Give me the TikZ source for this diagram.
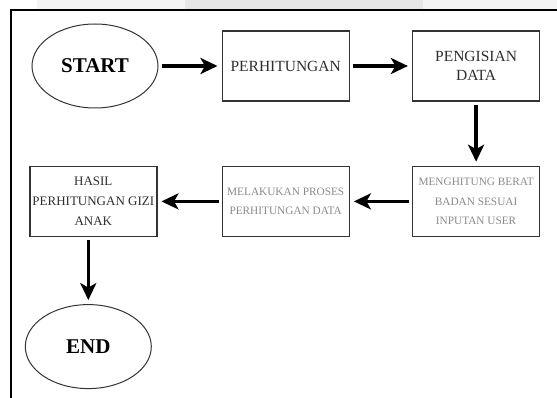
\documentclass[tikz,border=0pt]{standalone}
\usepackage{fontspec}
\setmainfont{Liberation Serif}
\usepackage{xcolor}
\usepackage{tikz}
\usetikzlibrary{shapes.geometric,arrows.meta,positioning}

\definecolor{edgegray}{HTML}{333333}
\definecolor{textdark}{HTML}{2E2E2E}
\definecolor{textlight}{HTML}{8A8A8A}
\definecolor{bandlight}{HTML}{F4F4F4}
\definecolor{banddark}{HTML}{E6E6E6}

\begin{document}
\begin{tikzpicture}[
		x=1pt, y=1pt,
		node distance=63pt,
		terminal/.style={ellipse, draw=edgegray, line width=1pt, minimum width=126pt, minimum height=84pt, inner sep=0pt, font=\fontsize{21}{24}\selectfont\bfseries, text=black},
		block/.style={rectangle, draw=edgegray, line width=1.4pt, minimum width=127pt, minimum height=70pt, inner sep=1pt, align=center, text=textdark, font=\fontsize{15.5}{19.5}\selectfont},
		smallblock/.style={block, font=\fontsize{11.3}{19.5}\selectfont, text=textlight},
		arrow/.style={-{Stealth[length=17pt,width=16pt,inset=4.5pt]}, line width=3.4pt, shorten >=4pt, shorten <=3pt}
		]
		
		% page and frame
		\useasboundingbox (0,0) rectangle (557,-398);
		\fill[bandlight] (37,0) rectangle (557,-9);
		\fill[banddark] (185,0) rectangle (423,-9);
		\draw[line width=1.2pt] (11,-398) -- (11,-10) -- (557,-10);
		
		% Main flow
		\node[terminal] (start) at (95,-66) {START};
		\node[block, right=of start] (hitung) {PERHITUNGAN};
		\node[block, right=62pt of hitung] (isi) {PENGISIAN\\DATA};
		\node[smallblock, below=64pt of isi] (berat) {MENGHITUNG BERAT\\BADAN SESUAI\\INPUTAN USER};
		\node[smallblock, left=62pt of berat] (proses) {MELAKUKAN PROSES\\PERHITUNGAN DATA};
		\node[block, left=64pt of proses, font=\fontsize{13}{20}\selectfont] (hasil) {HASIL\\PERHITUNGAN GIZI\\ANAK};
		\node[terminal, below=67pt of hasil, xshift=-5pt] (fin) {END};
		
		% Arrows
		\draw[arrow] (start) -- (hitung);
		\draw[arrow] (hitung) -- (isi);
		\draw[arrow] (isi) -- (berat);
		\draw[arrow] (berat) -- (proses);
		\draw[arrow] (proses) -- (hasil);
		\draw[arrow] (hasil.south -| fin.north) -- (fin);
		
	\end{tikzpicture}
\end{document}
